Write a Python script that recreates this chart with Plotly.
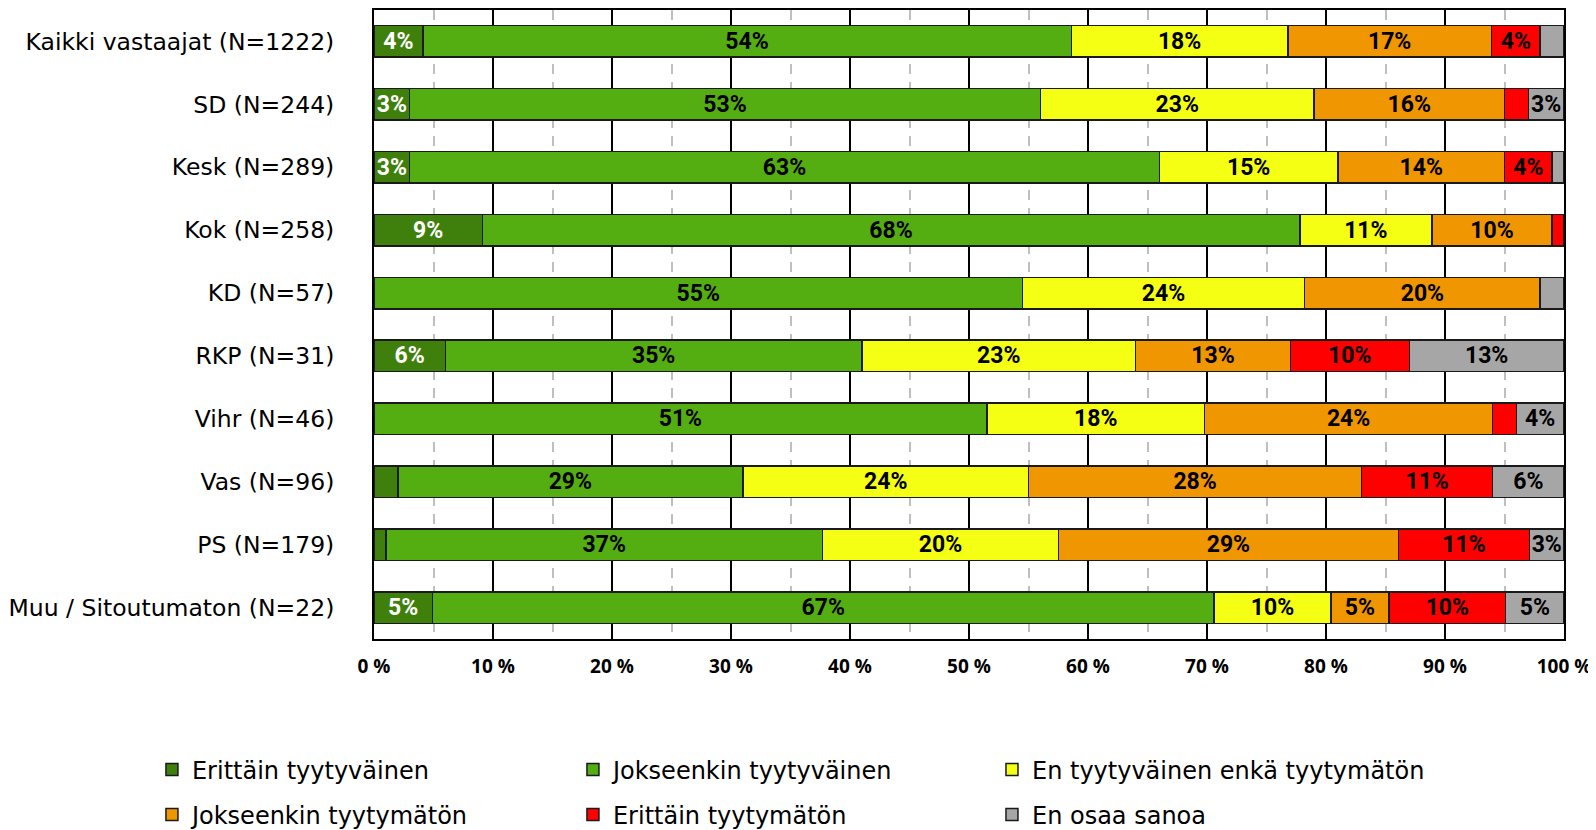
import plotly.graph_objects as go

categories = ["Kaikki vastaajat (N=1222)", "SD (N=244)", "Kesk (N=289)", "Kok (N=258)",
              "KD (N=57)", "RKP (N=31)", "Vihr (N=46)", "Vas (N=96)", "PS (N=179)",
              "Muu / Sitoutumaton (N=22)"]

series_names = ["Erittäin tyytyväinen", "Jokseenkin tyytyväinen", "En tyytyväinen enkä tyytymätön",
                "Jokseenkin tyytymätön", "Erittäin tyytymätön", "En osaa sanoa"]

erittain_tyytyvainen = [4.1, 3.0, 3.0, 9.1, 0.0, 6.0, 0.0, 2.0, 1.0, 4.9]
jokseenkin_tyytyvainen = [54.5, 53.0, 63.0, 68.7, 54.5, 35.0, 51.5, 29.0, 36.7, 65.7]
ei_kumpikaan = [18.2, 23.0, 15.0, 11.1, 23.7, 23.0, 18.3, 24.0, 19.8, 9.8]
jokseenkin_tyytymaton = [17.1, 16.0, 14.0, 10.1, 19.8, 13.0, 24.2, 28.0, 28.6, 4.9]
erittain_tyytymaton = [4.1, 2.0, 4.0, 1.0, 0.0, 10.0, 2.0, 11.0, 11.0, 9.8]
en_osaa_sanoa = [2.0, 3.0, 1.0, 0.0, 2.0, 13.0, 4.0, 6.0, 2.9, 4.9]

labels_erittain_tyytyvainen = ["4%", "3%", "3%", "9%", "", "6%", "", "", "", "5%"]
labels_jokseenkin_tyytyvainen = ["54%", "53%", "63%", "68%", "55%", "35%", "51%", "29%", "37%", "67%"]
labels_ei_kumpikaan = ["18%", "23%", "15%", "11%", "24%", "23%", "18%", "24%", "20%", "10%"]
labels_jokseenkin_tyytymaton = ["17%", "16%", "14%", "10%", "20%", "13%", "24%", "28%", "29%", "5%"]
labels_erittain_tyytymaton = ["4%", "", "4%", "", "", "10%", "", "11%", "11%", "10%"]
labels_en_osaa_sanoa = ["", "3%", "", "", "", "13%", "4%", "6%", "3%", "5%"]

x_ticks = [0, 10, 20, 30, 40, 50, 60, 70, 80, 90, 100]

values = [erittain_tyytyvainen, jokseenkin_tyytyvainen, ei_kumpikaan,
          jokseenkin_tyytymaton, erittain_tyytymaton, en_osaa_sanoa]
labels = [labels_erittain_tyytyvainen, labels_jokseenkin_tyytyvainen, labels_ei_kumpikaan,
          labels_jokseenkin_tyytymaton, labels_erittain_tyytymaton, labels_en_osaa_sanoa]
colors = ["#3F7F0B", "#55AE11", "#F5FF14", "#F09600", "#FF0000", "#A6A6A6"]
text_colors = ["white", "black", "black", "black", "black", "black"]
legend_ids = ["legend", "legend", "legend3", "legend2", "legend2", "legend4"]

fig = go.Figure()
for name, vals, labs, col, tcol, lg in zip(series_names, values, labels, colors, text_colors, legend_ids):
    fig.add_trace(go.Bar(
        y=categories, x=vals, name=name, orientation="h",
        marker=dict(color=col, line=dict(color="#1a1a1a", width=1.5)),
        text=labs, textposition="inside", insidetextanchor="middle",
        textangle=0, constraintext="none",
        insidetextfont=dict(family="Roboto", size=23, color=tcol, weight="bold"),
        hoverinfo="x+y+name", legend=lg,
    ))

legend_common = dict(
    orientation="h", xanchor="left", yanchor="middle",
    font=dict(family="DejaVu Sans", size=24, color="black"),
    bgcolor="rgba(0,0,0,0)", traceorder="normal", itemclick=False,
)
row1_y, row2_y = -0.2083, -0.2798
col1_x, col3_x = -0.1866, 0.5193

fig.update_layout(
    template="none",
    width=1596, height=830,
    margin=dict(l=366, r=40, t=2, b=199, autoexpand=False),
    barmode="stack", bargap=0.5,
    plot_bgcolor="white", paper_bgcolor="white",
    showlegend=True,
    legend=dict(x=col1_x, y=row1_y, entrywidth=376, entrywidthmode="pixels", **legend_common),
    legend2=dict(x=col1_x, y=row2_y, entrywidth=376, entrywidthmode="pixels", **legend_common),
    legend3=dict(x=col3_x, y=row1_y, **legend_common),
    legend4=dict(x=col3_x, y=row2_y, **legend_common),
    xaxis=dict(
        range=[0, 100], tickvals=x_ticks, ticktext=[f"{t} %" for t in x_ticks],
        tickfont=dict(family="Open Sans", size=19, color="black", weight="bold"),
        showgrid=True, gridcolor="black", gridwidth=1.5,
        minor=dict(dtick=5, tick0=0, showgrid=True, gridcolor="#BFBFBF",
                   griddash="10px,8px", gridwidth=1.5),
        showline=True, linecolor="black", linewidth=2, mirror=True,
        zeroline=False, ticks="", ticklabelstandoff=9, fixedrange=True,
        automargin=False,
    ),
    yaxis=dict(
        autorange="reversed",
        tickfont=dict(family="DejaVu Sans", size=23.5, color="black"),
        showline=True, linecolor="black", linewidth=2, mirror=True,
        showgrid=False, zeroline=False, ticks="", ticklabelstandoff=33, fixedrange=True,
        automargin=False,
    ),
)

fig.write_html("out.html")
